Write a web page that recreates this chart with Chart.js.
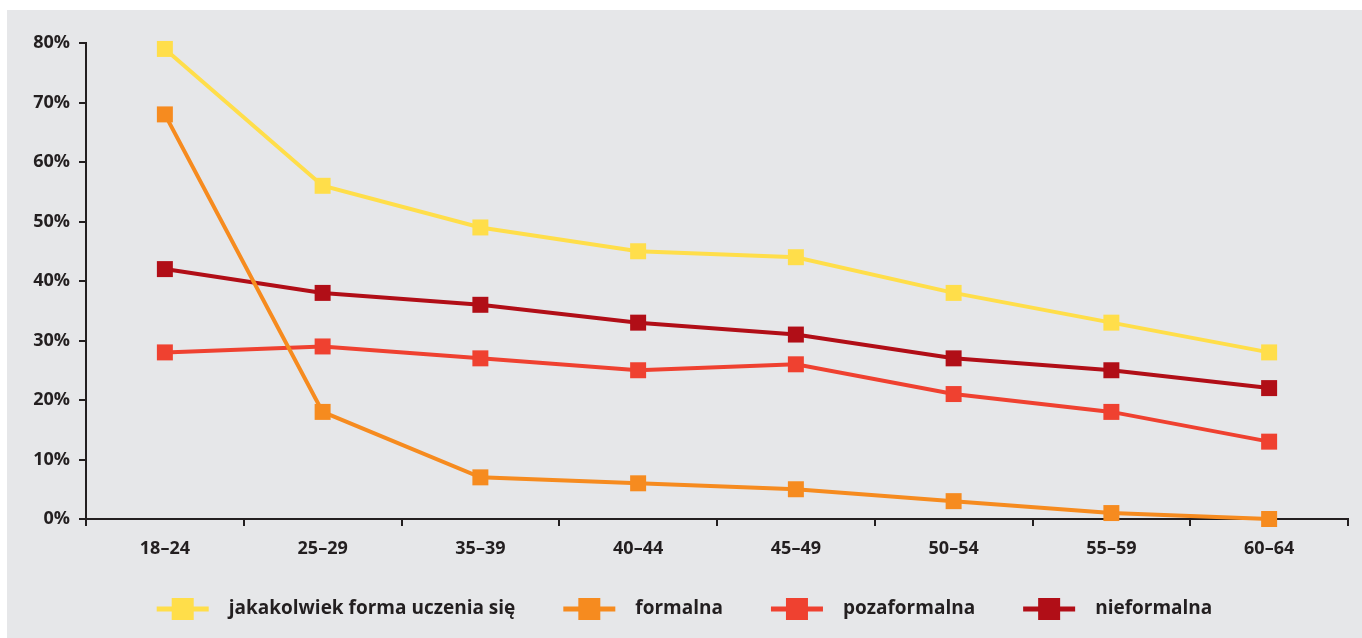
<!DOCTYPE html>
<html lang="pl">
<head>
<meta charset="UTF-8">
<title>Uczenie się według wieku</title>
<script src="https://cdn.jsdelivr.net/npm/chart.js"></script>
<style>
    html, body { margin: 0; padding: 0; background: #ffffff; }
    .frame { position: absolute; left: 7px; top: 10px; width: 1355px; height: 628px; background: #e6e7e9; }
</style>
</head>
<body>
<div class="frame"><canvas id="chart"></canvas></div>
<script>
    const ageGroups = ['18–24', '25–29', '35–39', '40–44', '45–49', '50–54', '55–59', '60–64'];
    const seriesNames = ['jakakolwiek forma uczenia się', 'formalna', 'pozaformalna', 'nieformalna'];
    const anyForm = [79, 56, 49, 45, 44, 38, 33, 28];
    const formal = [68, 18, 7, 6, 5, 3, 1, 0];
    const nonFormal = [28, 29, 27, 25, 26, 21, 18, 13];
    const informal = [42, 38, 36, 33, 31, 27, 25, 22];
    const yTicks = [0, 10, 20, 30, 40, 50, 60, 70, 80];

    const colors = ['#ffde4a', '#f68b1f', '#ef4130', '#b10e17'];
    const ink = '#231f20';
    const font = '"Open Sans", sans-serif';

    const values = [anyForm, formal, nonFormal, informal];
    const datasets = values.map((v, i) => ({
        label: seriesNames[i],
        data: v,
        borderColor: colors[i],
        backgroundColor: colors[i],
        borderWidth: 4,
        pointStyle: 'rect',
        pointRadius: 11.3,
        pointBorderWidth: 0,
        pointHoverRadius: 11.3,
        tension: 0,
        clip: false
    }));

    // legend: line + square, drawn under the axis labels
    const legendPlugin = {
        id: 'lineLegend',
        afterDraw(chart) {
            const ctx = chart.ctx;
            ctx.save();
            ctx.font = '700 19px ' + font;
            const lineW = 52, textGap = 20, itemGap = 48;
            const widths = seriesNames.map(n => lineW + textGap + ctx.measureText(n).width);
            const total = widths.reduce((a, b) => a + b, 0) + itemGap * (widths.length - 1);
            let x = (chart.width - total) / 2;
            const y = 599;
            chart.data.datasets.forEach((ds, i) => {
                ctx.strokeStyle = ds.borderColor;
                ctx.lineWidth = 5;
                ctx.beginPath();
                ctx.moveTo(x, y);
                ctx.lineTo(x + lineW, y);
                ctx.stroke();
                ctx.fillStyle = ds.borderColor;
                ctx.fillRect(x + lineW / 2 - 11, y - 11, 22, 22);
                ctx.fillStyle = ink;
                ctx.textBaseline = 'middle';
                ctx.fillText(ds.label, x + lineW + textGap, y);
                x += widths[i] + itemGap;
            });
            ctx.restore();
        }
    };

    new Chart(document.getElementById('chart'), {
        type: 'line',
        data: { labels: ageGroups, datasets: datasets },
        plugins: [legendPlugin],
        options: {
            responsive: true,
            maintainAspectRatio: false,
            animation: false,
            layout: { padding: { top: 33, right: 14, bottom: 0, left: 0 } },
            plugins: { legend: { display: false }, tooltip: { enabled: false } },
            scales: {
                x: {
                    offset: true,
                    grid: { offset: true, drawOnChartArea: false, drawTicks: true, tickLength: 7, color: ink, lineWidth: 2 },
                    border: { color: ink, width: 2 },
                    ticks: { color: ink, font: { family: font, size: 18, weight: '700' }, padding: 12, maxRotation: 0 },
                    afterFit(scale) { scale.height = 119; }
                },
                y: {
                    min: 0,
                    max: 80,
                    afterBuildTicks(scale) { scale.ticks = yTicks.map(v => ({ value: v })); },
                    grid: { drawOnChartArea: false, drawTicks: true, tickLength: 7, color: ink, lineWidth: 2 },
                    border: { color: ink, width: 2 },
                    ticks: { color: ink, font: { family: font, size: 18, weight: '700' }, padding: 9, callback: v => v + '%' },
                    afterFit(scale) { scale.width = 79; }
                }
            }
        }
    });
</script>
</body>
</html>
